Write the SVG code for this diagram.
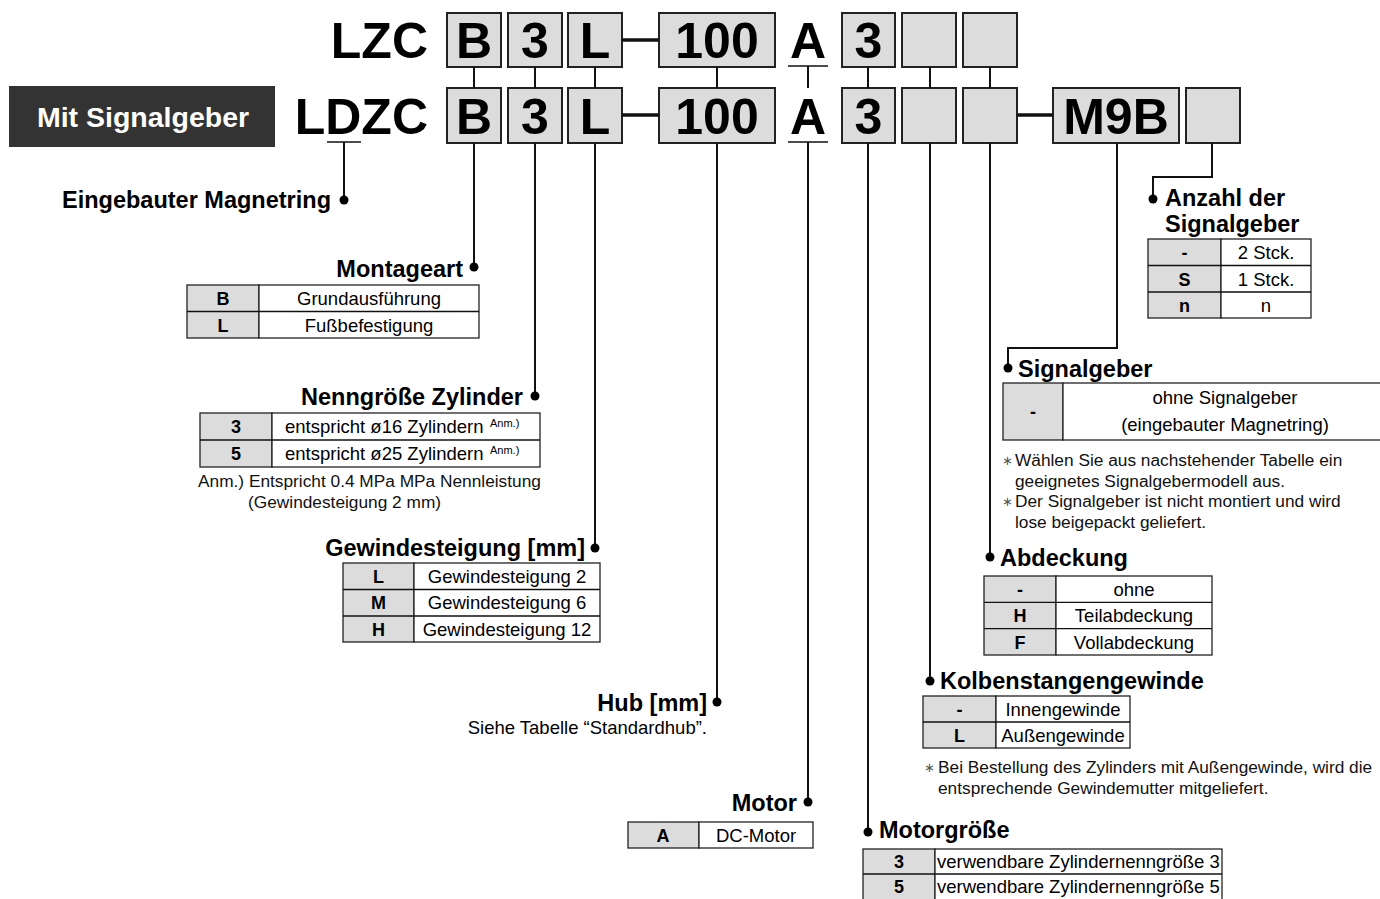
<svg xmlns="http://www.w3.org/2000/svg" width="1380" height="899" viewBox="0 0 1380 899">
<style>
.big{font-family:"Liberation Sans",Arial,sans-serif;font-weight:bold;font-size:50px;fill:#000;}
.box{fill:#dcdcdc;stroke:#222;stroke-width:2;}
.ln{stroke:#111;stroke-width:2;fill:none;}
.dash{stroke:#111;stroke-width:3.5;fill:none;}
.ul{stroke:#111;stroke-width:1.6;fill:none;}
.dot{fill:#000;}
.hd{font-family:"Liberation Sans",Arial,sans-serif;font-weight:bold;font-size:23.5px;fill:#000;}
.tk{fill:#dcdcdc;stroke:#222;stroke-width:1.3;}
.tv{fill:#fff;stroke:#222;stroke-width:1.3;}
.k{font-family:"Liberation Sans",Arial,sans-serif;font-weight:bold;font-size:18px;fill:#000;text-anchor:middle;}
.v{font-family:"Liberation Sans",Arial,sans-serif;font-size:18.5px;fill:#000;}
.c{text-anchor:middle;}
.e{text-anchor:end;}
.n{font-family:"Liberation Sans",Arial,sans-serif;font-size:17.3px;fill:#111;}
.sup{font-family:"Liberation Sans",Arial,sans-serif;font-size:11px;fill:#000;}
.ast{font-family:"Liberation Sans",Arial,sans-serif;font-size:13px;fill:#555;}
</style>
<rect width="1380" height="899" fill="#fff"/>

<g id="badge">
<rect x="9" y="86" width="266" height="61" fill="#333"/>
<text x="143" y="127" font-family="Liberation Sans,Arial,sans-serif" font-weight="bold" font-size="28.5" fill="#fff" text-anchor="middle">Mit Signalgeber</text>
</g>

<g id="code-top">
<text class="big" x="428" y="58" text-anchor="end">LZC</text>
<rect class="box" x="447" y="13" width="54" height="54"/><text class="big c" x="474" y="58">B</text>
<rect class="box" x="508" y="13" width="54" height="54"/><text class="big c" x="535" y="58">3</text>
<rect class="box" x="568" y="13" width="54" height="54"/><text class="big c" x="595" y="58">L</text>
<rect class="box" x="659" y="13" width="116" height="54"/><text class="big c" x="717" y="58">100</text>
<text class="big c" x="808" y="58">A</text>
<rect class="box" x="842" y="13" width="53" height="54"/><text class="big c" x="868.5" y="58">3</text>
<rect class="box" x="902" y="13" width="54" height="54"/>
<rect class="box" x="963" y="13" width="54" height="54"/>
</g>

<g id="code-bottom">
<text class="big" x="428" y="134" text-anchor="end">LDZC</text>
<rect class="box" x="447" y="88" width="54" height="55"/><text class="big c" x="474" y="134">B</text>
<rect class="box" x="508" y="88" width="54" height="55"/><text class="big c" x="535" y="134">3</text>
<rect class="box" x="568" y="88" width="54" height="55"/><text class="big c" x="595" y="134">L</text>
<rect class="box" x="659" y="88" width="116" height="55"/><text class="big c" x="717" y="134">100</text>
<text class="big c" x="808" y="134">A</text>
<rect class="box" x="842" y="88" width="53" height="55"/><text class="big c" x="868.5" y="134">3</text>
<rect class="box" x="902" y="88" width="54" height="55"/>
<rect class="box" x="963" y="88" width="54" height="55"/>
<rect class="box" x="1053" y="88" width="126" height="55"/><text class="big c" x="1116" y="134">M9B</text>
<rect class="box" x="1186" y="88" width="54" height="55"/>
</g>

<g id="connectors">
<line class="dash" x1="622" y1="40" x2="659" y2="40"/>
<line class="dash" x1="622" y1="115" x2="659" y2="115"/>
<line class="dash" x1="1017" y1="115" x2="1053" y2="115"/>
<line class="ul" x1="788" y1="66" x2="828" y2="66"/>
<line class="ul" x1="788" y1="142" x2="828" y2="142"/>
<line class="ul" x1="327" y1="142" x2="361" y2="142"/>
<path class="ln" d="M474 67V88M535 67V88M595 67V88M717 67V88M808 66V88M868 67V88M930 67V88M990 67V88"/>
<path class="ln" d="M344 142V200"/>
<path class="ln" d="M474 143V267"/>
<path class="ln" d="M535 143V396"/>
<path class="ln" d="M595 143V548"/>
<path class="ln" d="M717 143V702"/>
<path class="ln" d="M808 142V802"/>
<path class="ln" d="M868 143V832"/>
<path class="ln" d="M930 143V681"/>
<path class="ln" d="M990 143V557"/>
<path class="ln" d="M1117 143V348H1008V368"/>
<path class="ln" d="M1212 143V177H1153V199"/>
<circle class="dot" cx="344" cy="200" r="4.5"/>
<circle class="dot" cx="474" cy="267" r="4.5"/>
<circle class="dot" cx="535" cy="396" r="4.5"/>
<circle class="dot" cx="595" cy="548" r="4.5"/>
<circle class="dot" cx="717" cy="702" r="4.5"/>
<circle class="dot" cx="808" cy="802" r="4.5"/>
<circle class="dot" cx="868" cy="832" r="4.5"/>
<circle class="dot" cx="930" cy="681" r="4.5"/>
<circle class="dot" cx="990" cy="557" r="4.5"/>
<circle class="dot" cx="1008" cy="368" r="4.5"/>
<circle class="dot" cx="1153" cy="199" r="4.5"/>
</g>

<g id="magnetring">
<text class="hd e" x="331" y="208">Eingebauter Magnetring</text>
</g>

<g id="montageart">
<text class="hd e" x="463" y="277">Montageart</text>
<rect class="tk" x="187" y="285" width="72" height="53"/>
<rect class="tv" x="259" y="285" width="220" height="53"/>
<line class="ul" x1="187" y1="311.5" x2="479" y2="311.5" style="stroke-width:1.3"/>
<text class="k" x="223" y="304.5">B</text><text class="v c" x="369" y="304.5">Grundausführung</text>
<text class="k" x="223" y="331.5">L</text><text class="v c" x="369" y="331.5">Fußbefestigung</text>
</g>

<g id="nenngroesse">
<text class="hd e" x="523" y="405">Nenngröße Zylinder</text>
<rect class="tk" x="200" y="413" width="72" height="54"/>
<rect class="tv" x="272" y="413" width="268" height="54"/>
<line class="ul" x1="200" y1="440" x2="540" y2="440" style="stroke-width:1.3"/>
<text class="k" x="236" y="433">3</text><text class="v" x="285" y="433">entspricht ø16 Zylindern</text><text class="sup" x="490" y="427">Anm.)</text>
<text class="k" x="236" y="460">5</text><text class="v" x="285" y="460">entspricht ø25 Zylindern</text><text class="sup" x="490" y="454">Anm.)</text>
<text class="n" x="198" y="487">Anm.) Entspricht 0.4 MPa MPa Nennleistung</text>
<text class="n" x="248" y="508">(Gewindesteigung 2 mm)</text>
</g>

<g id="gewindesteigung">
<text class="hd e" x="585" y="556">Gewindesteigung [mm]</text>
<rect class="tk" x="343" y="563" width="71" height="79"/>
<rect class="tv" x="414" y="563" width="186" height="79"/>
<path class="ul" d="M343 589.5H600M343 616H600" style="stroke-width:1.3"/>
<text class="k" x="378.5" y="582.5">L</text><text class="v c" x="507" y="582.5">Gewindesteigung 2</text>
<text class="k" x="378.5" y="609">M</text><text class="v c" x="507" y="609">Gewindesteigung 6</text>
<text class="k" x="378.5" y="635.5">H</text><text class="v c" x="507" y="635.5">Gewindesteigung 12</text>
</g>

<g id="hub">
<text class="hd e" x="707" y="711">Hub [mm]</text>
<text class="v e" x="707" y="734">Siehe Tabelle “Standardhub”.</text>
</g>

<g id="motor">
<text class="hd e" x="797" y="811">Motor</text>
<rect class="tk" x="628" y="822" width="71" height="26"/>
<rect class="tv" x="699" y="822" width="114" height="26"/>
<text class="k" x="663" y="841.5">A</text><text class="v c" x="756" y="841.5">DC-Motor</text>
</g>

<g id="motorgroesse">
<text class="hd" x="879" y="838">Motorgröße</text>
<rect class="tk" x="863" y="849" width="72" height="51"/>
<rect class="tv" x="935" y="849" width="287" height="51"/>
<line class="ul" x1="863" y1="874" x2="1222" y2="874" style="stroke-width:1.3"/>
<text class="k" x="899" y="868">3</text><text class="v" x="937" y="868">verwendbare Zylindernenngröße 3</text>
<text class="k" x="899" y="893">5</text><text class="v" x="937" y="893">verwendbare Zylindernenngröße 5</text>
</g>

<g id="kolbenstangengewinde">
<text class="hd" x="940" y="689">Kolbenstangengewinde</text>
<rect class="tk" x="923" y="696" width="73" height="52"/>
<rect class="tv" x="996" y="696" width="134" height="52"/>
<line class="ul" x1="923" y1="722" x2="1130" y2="722" style="stroke-width:1.3"/>
<text class="k" x="959.5" y="715.5">-</text><text class="v c" x="1063" y="715.5">Innengewinde</text>
<text class="k" x="959.5" y="741.5">L</text><text class="v c" x="1063" y="741.5">Außengewinde</text>
<text class="ast" x="924" y="772">∗</text>
<text class="n" x="938" y="773">Bei Bestellung des Zylinders mit Außengewinde, wird die</text>
<text class="n" x="938" y="794">entsprechende Gewindemutter mitgeliefert.</text>
</g>

<g id="abdeckung">
<text class="hd" x="1000" y="566">Abdeckung</text>
<rect class="tk" x="984" y="576" width="72" height="79"/>
<rect class="tv" x="1056" y="576" width="156" height="79"/>
<path class="ul" d="M984 602.3H1212M984 628.7H1212" style="stroke-width:1.3"/>
<text class="k" x="1020" y="595.5">-</text><text class="v c" x="1134" y="595.5">ohne</text>
<text class="k" x="1020" y="622">H</text><text class="v c" x="1134" y="622">Teilabdeckung</text>
<text class="k" x="1020" y="648.5">F</text><text class="v c" x="1134" y="648.5">Vollabdeckung</text>
</g>

<g id="signalgeber">
<text class="hd" x="1018" y="377">Signalgeber</text>
<rect class="tk" x="1003" y="383" width="60" height="57"/>
<rect class="tv" x="1063" y="383" width="330" height="57"/>
<text class="k" x="1033" y="418">-</text>
<text class="v c" x="1225" y="404">ohne Signalgeber</text>
<text class="v c" x="1225" y="431">(eingebauter Magnetring)</text>
<text class="ast" x="1002" y="465">∗</text>
<text class="n" x="1015" y="466">Wählen Sie aus nachstehender Tabelle ein</text>
<text class="n" x="1015" y="487">geeignetes Signalgebermodell aus.</text>
<text class="ast" x="1002" y="506">∗</text>
<text class="n" x="1015" y="507">Der Signalgeber ist nicht montiert und wird</text>
<text class="n" x="1015" y="528">lose beigepackt geliefert.</text>
</g>

<g id="anzahl">
<text class="hd" x="1165" y="206">Anzahl der</text>
<text class="hd" x="1165" y="232">Signalgeber</text>
<rect class="tk" x="1148" y="239" width="73" height="79"/>
<rect class="tv" x="1221" y="239" width="90" height="79"/>
<path class="ul" d="M1148 265.5H1311M1148 292H1311" style="stroke-width:1.3"/>
<text class="k" x="1184.5" y="259">-</text><text class="v c" x="1266" y="259">2 Stck.</text>
<text class="k" x="1184.5" y="285.5">S</text><text class="v c" x="1266" y="285.5">1 Stck.</text>
<text class="k" x="1184.5" y="311.5">n</text><text class="v c" x="1266" y="311.5">n</text>
</g>
</svg>
